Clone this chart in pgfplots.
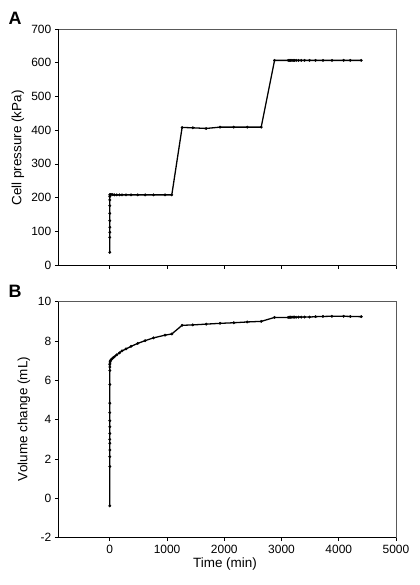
\documentclass[border=0pt]{standalone}
\usepackage{pgfplots}
\pgfplotsset{compat=1.18}
\usepackage{fontspec}
\setmainfont{Liberation Sans}
\begin{document}
\begin{tikzpicture}
\path[use as bounding box] (0bp,0bp) rectangle (420bp,-585bp);
\pgfplotsset{
  panel/.style={
    scale only axis,
    width=337.7bp, height=236bp,
    xmin=-900, xmax=5000,
    xtick={0,1000,2000,3000,4000,5000},
    axis line style={black!65, line width=0.9pt},
    xtick pos=lower, ytick pos=left,
    tick align=outside,
    major tick length=3.5bp,
    tick style={black, line width=0.7pt},
    ticklabel style={font=\fontsize{12}{13}\selectfont},
    /pgf/number format/assume math mode=true,
    /pgf/number format/1000 sep={},
    scaled ticks=false,
    clip=false,
  },
  dat/.style={black, line width=1.3pt, mark=*, mark size=1.3pt, mark options={fill=black, line width=0.3pt}},
}
\begin{axis}[panel, at={(58.3bp,-265bp)}, anchor=south west,
  ymin=0, ymax=700, ytick={0,100,...,700}, xticklabels={}]
\draw[black, line width=0.9pt] (rel axis cs:0,1) -- (rel axis cs:0,0) -- (rel axis cs:1,0);
\addplot[dat] coordinates {(0,37.6)(0,82)(0,97)(0,112)(0,131.5)(0,153)(0,176)(0,193)(0,203)(0,208)(5,209)(22,209)(51,209)(80,208)(121,208)(168,208)(214,208)(284,208)(372,208)(488,208)(617,208)(762,208)(966,208)(1083,208)(1263,408)(1450,407)(1683,405)(1927,409)(2166,409)(2400,409)(2645,409)(2878,607)(3117,607)(3140,607)(3157,607)(3181,607)(3204,607)(3227,607)(3256,607)(3297,607)(3344,607)(3403,607)(3490,607)(3595,607)(3724,607)(3881,607)(4085,607)(4202,607)(4394,607)};
\end{axis}
\begin{axis}[panel, at={(58.3bp,-537.7bp)}, anchor=south west,
  ymin=-2, ymax=10, ytick={-2,0,...,10}]
\draw[black, line width=0.9pt] (rel axis cs:0,1) -- (rel axis cs:0,0) -- (rel axis cs:1,0);
\addplot[dat] coordinates {(0,-0.38)(0,1.62)(0,2.12)(0,2.46)(0,2.8)(0,3.0)(0,3.3)(0,3.64)(0,3.95)(0,4.36)(0,4.84)(0,5.79)(0,6.5)(0,6.68)(0,6.8)(3,6.88)(6,6.95)(10,7.0)(22,7.05)(40,7.1)(60,7.16)(80,7.2)(121,7.3)(168,7.4)(214,7.5)(284,7.6)(372,7.73)(488,7.88)(617,8.02)(762,8.16)(966,8.3)(1083,8.36)(1263,8.8)(1450,8.82)(1683,8.86)(1927,8.9)(2166,8.93)(2400,8.97)(2645,9.0)(2878,9.2)(3117,9.2)(3140,9.21)(3157,9.21)(3181,9.21)(3204,9.22)(3227,9.22)(3256,9.21)(3297,9.22)(3344,9.22)(3403,9.22)(3490,9.22)(3595,9.24)(3724,9.25)(3881,9.26)(4085,9.26)(4202,9.25)(4394,9.24)};
\end{axis}
\node[font=\fontsize{18}{18}\selectfont\bfseries] at (15bp,-18bp) {A};
\node[font=\fontsize{18}{18}\selectfont\bfseries] at (15bp,-291bp) {B};
\node[rotate=90, font=\fontsize{13.5}{15}\selectfont] at (18bp,-148bp) {Cell pressure (kPa)};
\node[rotate=90, font=\fontsize{13.5}{15}\selectfont] at (24bp,-419bp) {Volume change (mL)};
\node[font=\fontsize{13.5}{15}\selectfont] at (225bp,-564bp) {Time (min)};
\end{tikzpicture}
\end{document}
